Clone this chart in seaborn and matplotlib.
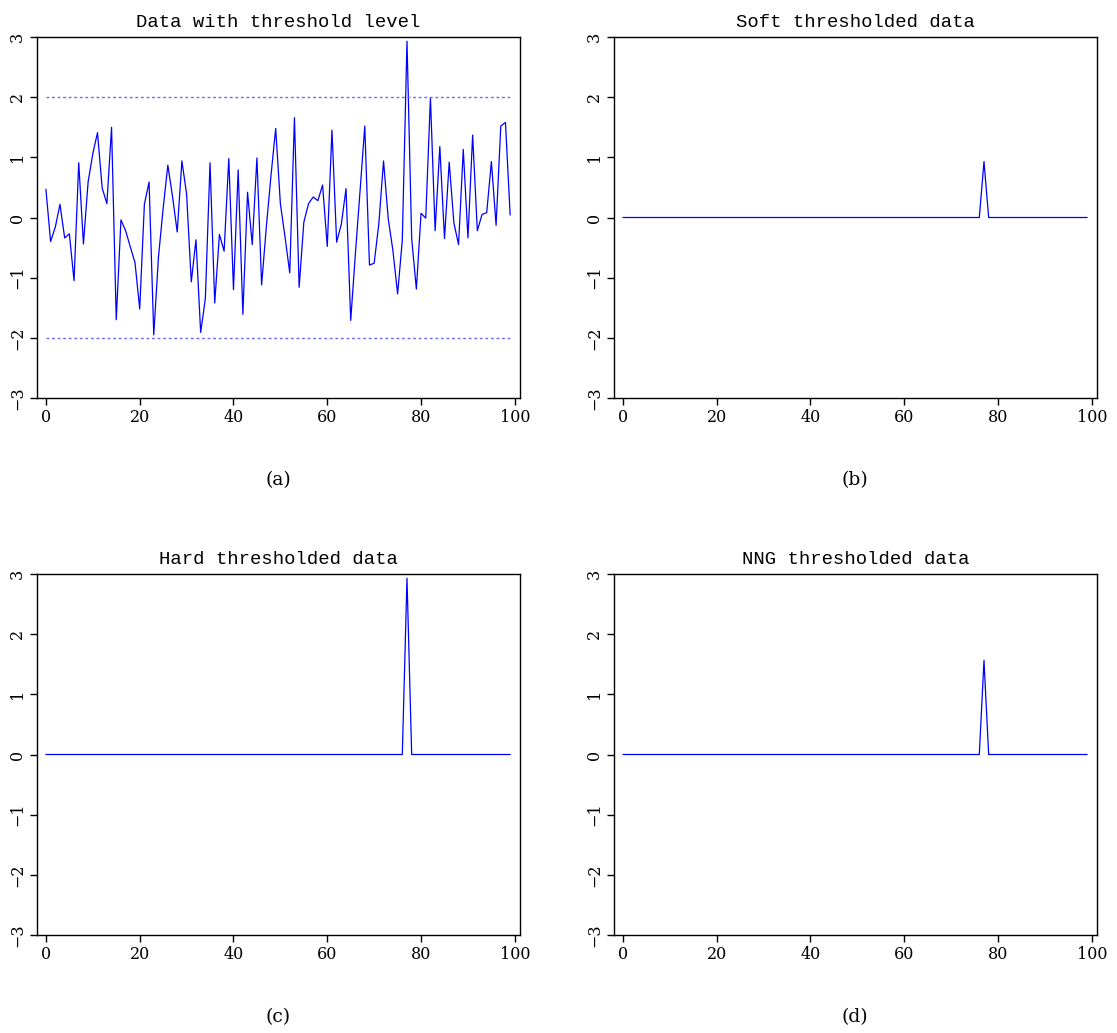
import numpy as np
import pandas as pd
import matplotlib
matplotlib.use("Agg")
import matplotlib.pyplot as plt
import seaborn as sns

# dane (a)
data = [0.47, -0.40, -0.16, 0.22, -0.34, -0.27, -1.05, 0.91, -0.44, 0.59,
        1.06, 1.41, 0.49, 0.23, 1.50, -1.70, -0.04, -0.22, -0.49, -0.75,
        -1.52, 0.22, 0.59, -1.95, -0.66, 0.15, 0.87, 0.35, -0.24, 0.94,
        0.39, -1.07, -0.37, -1.91, -1.35, 0.91, -1.42, -0.28, -0.56, 0.98,
        -1.20, 0.79, -1.61, 0.42, -0.45, 0.99, -1.12, -0.16, 0.70, 1.48,
        0.23, -0.33, -0.92, 1.66, -1.16, -0.08, 0.23, 0.34, 0.28, 0.54,
        -0.48, 1.45, -0.41, -0.11, 0.48, -1.71, -0.60, 0.45, 1.52, -0.79,
        -0.76, -0.10, 0.94, -0.02, -0.55, -1.27, -0.38, 2.93, -0.35, -1.19,
        0.07, -0.01, 1.99, -0.22, 1.18, -0.35, 0.92, -0.09, -0.45, 1.13,
        -0.34, 1.37, -0.22, 0.05, 0.08, 0.93, -0.13, 1.52, 1.58, 0.04]
threshold = 2.0
titles = ["Data with threshold level", "Soft thresholded data",
          "Hard thresholded data", "NNG thresholded data"]
labels = ["(a)", "(b)", "(c)", "(d)"]

x = np.arange(len(data))
d = np.array(data)
big = np.abs(d) > threshold
soft = np.where(big, np.sign(d) * (np.abs(d) - threshold), 0.0)
hard = np.where(big, d, 0.0)
nng = np.where(big, d - threshold**2 / np.where(big, d, 1.0), 0.0)
series = [d, soft, hard, nng]

sns.set_style("ticks")
plt.rcParams['font.family'] = ['DejaVu Serif']
plt.rcParams['text.color'] = 'black'

fig = plt.figure(figsize=(11.17, 10.33), dpi=100)
W, H = 1117, 1033
boxes = [(37, 37), (614, 37), (37, 574), (614, 574)]

for k in range(4):
    left, top = boxes[k]
    ax = fig.add_axes([left / W, 1 - (top + 361) / H, 483 / W, 361 / H])
    df = pd.DataFrame({"x": x, "y": series[k]})
    sns.lineplot(data=df, x="x", y="y", ax=ax, color="#0000ff", lw=0.9)
    if k == 0:
        for t in [threshold, -threshold]:
            ax.plot([x[0], x[-1]], [t, t], color="#6a6aff", lw=1.0,
                     linestyle=(0, (2, 2)))
    ax.set_xlim(-1.9, 101.1)
    ax.set_ylim(-3, 3)
    ax.set_xticks([0, 20, 40, 60, 80, 100])
    ax.set_yticks([-3, -2, -1, 0, 1, 2, 3])
    ax.set_yticklabels(["\u22123", "\u22122", "\u22121", "0", "1", "2", "3"],
                       rotation=90, va="center")
    ax.tick_params(direction="out", length=5, width=1, labelsize=11.5,
                   colors="black", labelcolor="black", pad=3)
    ax.set_xlabel("")
    ax.set_ylabel("")
    for s in ax.spines.values():
        s.set_visible(True)
        s.set_color("black")
        s.set_linewidth(1)
    ax.set_title(titles[k], family="Liberation Mono", fontsize=13.6, pad=7,
                 color="black")
    cx = (left + 241) / W
    fig.text(cx, 1 - (top + 443) / H, labels[k], ha="center", va="center",
             fontsize=13.5, family="DejaVu Serif", color="black")

fig.savefig("out.png", dpi=100)
